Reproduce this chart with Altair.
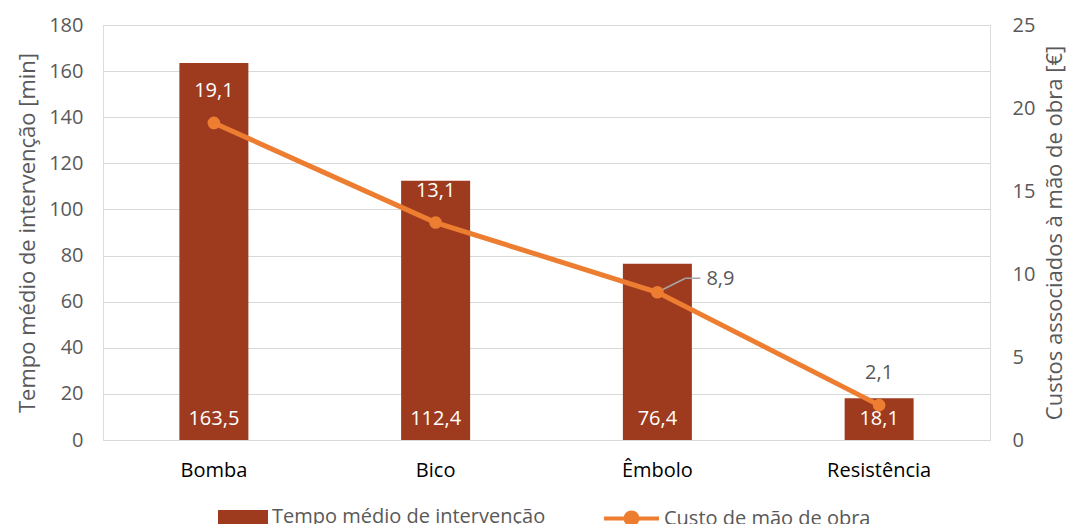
import altair as alt
import pandas as pd

categorias = ["Bomba", "Bico", "Êmbolo", "Resistência"]
tempo = [163.5, 112.4, 76.4, 18.1]
custo = [19.1, 13.1, 8.9, 2.1]

def fmt(v):
    return f"{v:.1f}".replace(".", ",")

df = pd.DataFrame({
    "cat": categorias,
    "tempo": tempo,
    "custo": custo,
    "tempo_lbl": [fmt(v) for v in tempo],
    "custo_lbl": [fmt(v) for v in custo],
    "s1": "Tempo médio de intervenção",
    "s2": "Custo de mão de obra",
})

FONT = "Open Sans"
GRAY = "#595959"
RED = "#9E3B1F"
ORANGE = "#ED7D31"
FS = 20
TFS = 22

xenc = alt.X("cat:N", sort=categorias, title=None,
             scale=alt.Scale(paddingInner=0.0, paddingOuter=0.0),
             axis=alt.Axis(labelAngle=0, tickSize=0, labelPadding=20, domainColor="#D9D9D9",
                           labelFontSize=FS, labelColor="#000000", labelFont=FONT))

base = alt.Chart(df)
yscaleR = alt.Scale(domain=[0, 25], nice=False, zero=True)

bars = base.mark_bar(size=69, color=RED).encode(
    x=xenc,
    y=alt.Y("tempo:Q", scale=alt.Scale(domain=[0, 180], nice=False),
            axis=alt.Axis(values=list(range(0, 181, 20)), title="Tempo médio de intervenção [min]",
                          tickSize=0, labelPadding=20, domain=False, gridColor="#D9D9D9",
                          labelFontSize=FS, labelColor=GRAY, titleFontSize=TFS, titleColor=GRAY,
                          titleFontWeight="normal", titleFont=FONT, labelFont=FONT, titlePadding=9)),
    fill=alt.Fill("s1:N", scale=alt.Scale(domain=["Tempo médio de intervenção"], range=[RED]),
                  legend=alt.Legend(title=None, orient="none", legendX=115, legendY=467,
                                    symbolType="M-1,-0.28H1V0.28H-1Z", symbolSize=2500,
                                    symbolStrokeWidth=0, labelFontSize=FS, labelColor=GRAY,
                                    labelFont=FONT, labelOffset=4, labelLimit=0)),
)

bar_lbl = base.mark_text(color="white", fontSize=FS, font=FONT, baseline="bottom", dy=-11).encode(
    x=alt.X("cat:N", sort=categorias),
    y=alt.Y("zero:Q"),
    text="tempo_lbl:N",
).transform_calculate(zero="0")

yR = alt.Y("custo:Q", scale=yscaleR,
           axis=alt.Axis(orient="right", values=[0, 5, 10, 15, 20, 25], title="Custos associados à mão de obra [€]",
                         tickSize=0, labelPadding=22, domain=False, grid=False, titleAngle=270,
                         titleBaseline="top",
                         labelFontSize=FS, labelColor=GRAY, titleFontSize=TFS, titleColor=GRAY,
                         titleFontWeight="normal", titleFont=FONT, labelFont=FONT, titlePadding=10))
yR2 = alt.Y("custo:Q", scale=yscaleR)

line = base.mark_line(strokeWidth=5).encode(
    x=alt.X("cat:N", sort=categorias),
    y=yR,
    stroke=alt.Stroke("s2:N", scale=alt.Scale(domain=["Custo de mão de obra"], range=[ORANGE]),
                      legend=alt.Legend(title=None, orient="none", legendX=499, legendY=464,
                                        symbolType="M-1,0H1M0.22,0A0.22,0.22 0 1 1 -0.22,0A0.22,0.22 0 1 1 0.22,0Z",
                                        symbolSize=3025, symbolFillColor=ORANGE, symbolStrokeWidth=4,
                                        labelFontSize=FS, labelColor=GRAY, labelFont=FONT, labelOffset=3,
                                        labelLimit=0)),
)

pts = base.mark_circle(size=160, color=ORANGE, opacity=1).encode(
    x=alt.X("cat:N", sort=categorias), y=yR2)

lbl_main = base.mark_text(fontSize=FS, font=FONT, dy=-32).encode(
    x=alt.X("cat:N", sort=categorias), y=yR2, text="custo_lbl:N",
    color=alt.condition("datum.custo > 10", alt.value("white"), alt.value(GRAY)),
).transform_filter("datum.cat != 'Êmbolo'")

lbl_emb = base.mark_text(fontSize=FS, font=FONT, align="left", dx=49, dy=-13, color=GRAY).encode(
    x=alt.X("cat:N", sort=categorias), y=yR2, text="custo_lbl:N",
).transform_filter("datum.cat == 'Êmbolo'")

lead1 = base.mark_rule(color="#A6A6A6", strokeWidth=1.5, x2Offset=28, y2Offset=-14).encode(
    x=alt.X("cat:N", sort=categorias), x2="cat:N", y=yR2, y2="custo:Q",
).transform_filter("datum.cat == 'Êmbolo'")

lead2 = base.mark_rule(color="#A6A6A6", strokeWidth=1.5, xOffset=28, yOffset=-14, x2Offset=43, y2Offset=-14).encode(
    x=alt.X("cat:N", sort=categorias), x2="cat:N", y=yR2, y2="custo:Q",
).transform_filter("datum.cat == 'Êmbolo'")

left = alt.layer(bars, bar_lbl)
right = alt.layer(line, lead1, lead2, pts, lbl_main, lbl_emb)

chart = alt.layer(left, right).resolve_scale(y="independent", fill="independent").properties(
    width=887, height=415,
    autosize=alt.AutoSizeParams(type="none"),
    padding={"left": 95, "top": 17, "right": 77, "bottom": 84},
).configure_view(stroke=None).configure(background="white")

chart.save("out.html", embed_options={"renderer": "svg", "actions": False})
